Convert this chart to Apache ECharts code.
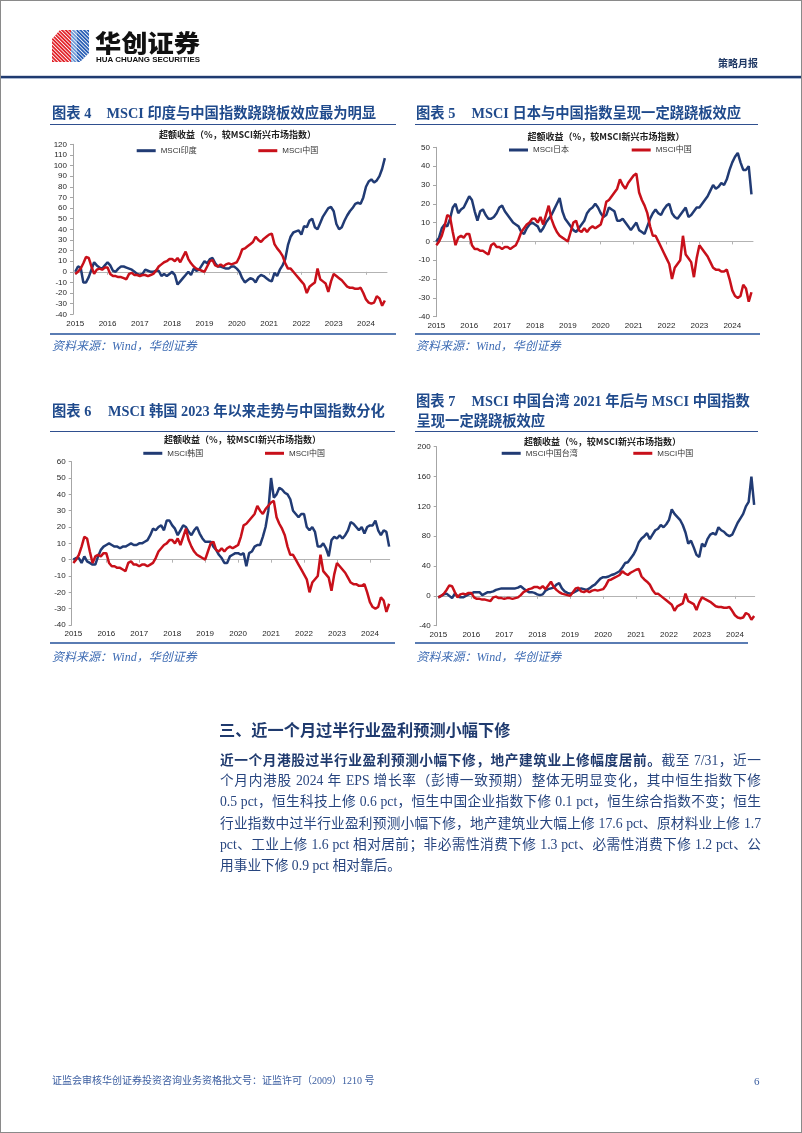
<!DOCTYPE html>
<html><head><meta charset="utf-8">
<script src="https://cdn.jsdelivr.net/npm/echarts@6/dist/echarts.min.js"></script>
<style>
html,body{margin:0;padding:0;background:#fff;}
#page{position:relative;width:802px;height:1133px;overflow:hidden;background:#fff;}
#chart{position:absolute;left:0;top:0;width:802px;height:1133px;}
.t{position:absolute;white-space:nowrap;}
.ct{font-family:"Liberation Serif","Noto Sans CJK SC",serif;font-weight:bold;font-size:14.3px;color:#1f4a8c;line-height:20px;}
.sub{font-family:"Noto Sans CJK SC",sans-serif;font-weight:bold;font-size:9px;color:#222;line-height:12px;width:220px;text-align:center;}
.src{font-family:"Liberation Serif","Noto Sans CJK SC",serif;font-style:italic;font-size:12px;color:#3d6bb3;line-height:16px;}
.hl{position:absolute;height:1.4px;background:#2f4f8f;}
.bl{position:absolute;height:2px;background:#5a7cb3;}
.body{position:absolute;left:220px;width:541px;font-family:"Liberation Serif","Noto Sans CJK SC",serif;font-size:13.7px;line-height:21px;color:#27457f;white-space:nowrap;text-align:justify;text-align-last:justify;}
.body b{font-family:"Noto Sans CJK SC",sans-serif;font-weight:bold;color:#1f3a6e;}
</style></head>
<body><div id="page">
<div id="chart"></div>

<div style="position:absolute;left:0;top:0;width:800px;height:1131px;border:1px solid #8a8a8a;pointer-events:none;"></div>

<svg class="t" style="left:0;top:0" width="802" height="80">
  <defs>
    <pattern id="rs" patternUnits="userSpaceOnUse" width="2.6" height="2.6" patternTransform="rotate(-45)">
      <rect width="2.6" height="2.6" fill="#e2252b"/><rect width="0.8" height="2.6" fill="#fff"/>
    </pattern>
    <pattern id="bs" patternUnits="userSpaceOnUse" width="2.6" height="2.6" patternTransform="rotate(-45)">
      <rect width="2.6" height="2.6" fill="#2a5fb5"/><rect width="0.8" height="2.6" fill="#fff"/>
    </pattern>
    <pattern id="ls" patternUnits="userSpaceOnUse" width="2.6" height="2.6" patternTransform="rotate(-45)">
      <rect width="2.6" height="2.6" fill="#6f9ad6"/><rect width="0.8" height="2.6" fill="#fff"/>
    </pattern>
  </defs>
  <polygon points="52,39 60,30 71,30 71,62 52,62" fill="url(#rs)"/>
  <polygon points="71,30 89,30 89,53 80,62 71,62" fill="url(#bs)"/>
  <polygon points="71,30 77,30 77,62 71,62" fill="url(#ls)"/>
  <text x="95" y="52" font-family="Noto Sans CJK SC" font-weight="900" font-size="24" fill="#111" textLength="105" lengthAdjust="spacingAndGlyphs">华创证券</text>
  <text x="96" y="62.3" font-family="Liberation Sans" font-weight="bold" font-size="7.8" fill="#111" textLength="104" lengthAdjust="spacingAndGlyphs">HUA CHUANG SECURITIES</text>
  <text x="718" y="67" font-family="Noto Sans CJK SC" font-weight="bold" font-size="10.3" fill="#1f3864" textLength="40" lengthAdjust="spacingAndGlyphs">策略月报</text>
  <rect x="1" y="75.8" width="800" height="2.4" fill="#1f3a70"/>
  <rect x="1" y="78.2" width="800" height="0.8" fill="#9fb0cc"/>
</svg>

<!-- chart titles -->
<div class="t ct" style="left:52px;top:103px;">图表 4</div>
<div class="t ct" style="left:106.5px;top:103px;">MSCI 印度与中国指数跷跷板效应最为明显</div>
<div class="hl" style="left:50px;top:123.6px;width:346px;"></div>
<div class="t ct" style="left:416px;top:103px;">图表 5</div>
<div class="t ct" style="left:471.5px;top:103px;">MSCI 日本与中国指数呈现一定跷跷板效应</div>
<div class="hl" style="left:415px;top:123.6px;width:343px;"></div>
<div class="t ct" style="left:52px;top:401px;">图表 6</div>
<div class="t ct" style="left:108px;top:401px;">MSCI 韩国 2023 年以来走势与中国指数分化</div>
<div class="hl" style="left:50px;top:431px;width:345px;"></div>
<div class="t ct" style="left:416px;top:390.5px;">图表 7</div>
<div class="t ct" style="left:471.5px;top:390.5px;">MSCI 中国台湾 2021 年后与 MSCI 中国指数</div>
<div class="t ct" style="left:416.5px;top:410.5px;">呈现一定跷跷板效应</div>
<div class="hl" style="left:415px;top:431px;width:343px;"></div>

<!-- chart subtitles -->
<div class="t sub" style="left:127.5px;top:128.5px;">超额收益（%，较MSCI新兴市场指数）</div>
<div class="t sub" style="left:496px;top:131px;">超额收益（%，较MSCI新兴市场指数）</div>
<div class="t sub" style="left:132.5px;top:434px;">超额收益（%，较MSCI新兴市场指数）</div>
<div class="t sub" style="left:492.5px;top:435.7px;">超额收益（%，较MSCI新兴市场指数）</div>

<!-- bottom rules and sources -->
<div class="bl" style="left:50px;top:332.5px;width:346px;"></div>
<div class="bl" style="left:415px;top:332.5px;width:345px;"></div>
<div class="bl" style="left:50px;top:642.3px;width:345px;"></div>
<div class="bl" style="left:415px;top:642.3px;width:333px;"></div>
<div class="t src" style="left:52px;top:338px;">资料来源：Wind，华创证券</div>
<div class="t src" style="left:416px;top:338px;">资料来源：Wind，华创证券</div>
<div class="t src" style="left:52px;top:649px;">资料来源：Wind，华创证券</div>
<div class="t src" style="left:416.5px;top:649px;">资料来源：Wind，华创证券</div>

<!-- section text -->
<div class="t" style="left:219px;top:718px;font-family:'Noto Sans CJK SC',sans-serif;font-weight:bold;font-size:16.2px;line-height:22px;color:#1f3a6e;">三、近一个月过半行业盈利预测小幅下修</div>
<div class="body" style="top:749px;"><b>近一个月港股过半行业盈利预测小幅下修，地产建筑业上修幅度居前。</b>截至 7/31，近一</div>
<div class="body" style="top:770.2px;">个月内港股 2024 年 EPS 增长率（彭博一致预期）整体无明显变化，其中恒生指数下修</div>
<div class="body" style="top:791.4px;">0.5 pct，恒生科技上修 0.6 pct，恒生中国企业指数下修 0.1 pct，恒生综合指数不变；恒生</div>
<div class="body" style="top:812.6px;">行业指数中过半行业盈利预测小幅下修，地产建筑业大幅上修 17.6 pct、原材料业上修 1.7</div>
<div class="body" style="top:833.8px;">pct、工业上修 1.6 pct 相对居前；非必需性消费下修 1.3 pct、必需性消费下修 1.2 pct、公</div>
<div class="body" style="top:855px;text-align-last:left;">用事业下修 0.9 pct 相对靠后。</div>

<!-- footer -->
<div class="t" style="left:52px;top:1074px;font-family:'Liberation Serif','Noto Sans CJK SC',serif;font-size:10px;line-height:14px;color:#3a5da0;">证监会审核华创证券投资咨询业务资格批文号：证监许可（2009）1210 号</div>
<div class="t" style="left:754px;top:1074px;font-family:'Liberation Serif',serif;font-size:11px;line-height:14px;color:#3a5da0;">6</div>
</div>

<script>
// ---- data (monthly readings, excess return %, vs MSCI EM) ----
const years = [2015, 2016, 2017, 2018, 2019, 2020, 2021, 2022, 2023, 2024];
const months = [];
for (let m = 0; m < 116; m++) months.push(+(2015 + m / 12).toFixed(4));

const china = [
  -2, 0, 3, 8, 14, 13, 5, -2, 2, 3, 2, 4,
  4, -2, -4, -4, -5, -5, -6, -7, -2, -1, -3, -3,
  -4, -3, -3, -4, -3, -2, 1, 5, 7, 9, 10, 12,
  12, 10, 13, 9, 14, 19, 12, 8, 5, 3, 2, 1,
  0, 5, 10, 11, 6, 5, 7, 5, 7, 8, 7, 8,
  9, 14, 21, 22, 24, 26, 28, 33, 30, 28, 31, 33,
  35, 36, 26, 22, 19, 15, 8, 3, 3, 0, -3, -6,
  -9, -12, -20, -14, -12, -10, 3, -7, -9, -11, -19, -9,
  -2, -4, -6, -8, -11, -14, -15, -15, -16, -16, -15, -20,
  -26, -29, -30, -29, -23, -25, -32, -27
];
const india = [
  0, 5, 4, -10, -10, -5, 2, 9, 6, 4, 3, 6,
  9, 6, 1, 0, 3, 5, 5, 4, 3, 2, 0, -2,
  -3, -2, 2, 1, 0, 0, 1, 1, -4, -2, -4, -2,
  0, -3, -12, -9, -6, -3, 0, -3, 3, 1, 2, 6,
  10, 8, 12, 13, 8, 5, 5, 4, 3, 3, 5, 5,
  3, 0, -6, -10, -8, -6, -7, -10, -5, -3, -4, -6,
  -8, -9, -1, -4, 2, 6, 12, 25, 33, 37, 38, 39,
  35, 43, 42, 48, 50, 42, 40, 46, 52, 56, 60, 61,
  57, 45, 40, 42, 48, 53, 57, 60, 64, 65, 64, 70,
  80, 85, 87, 84, 86, 90, 97, 107
];
const japan = [
  0, 2, 7, 9, 8, 12, 18, 20, 15, 17, 18, 21,
  24, 22, 16, 11, 16, 17, 14, 12, 12, 13, 15, 18,
  19, 16, 14, 12, 10, 9, 8, 5, 4, 7, 9, 10,
  9, 8, 5, 7, 10, 12, 14, 17, 20, 23, 16, 12,
  10, 8, 6, 5, 7, 9, 11, 15, 17, 18, 20, 18,
  15, 13, 14, 18, 17, 16, 11, 11, 12, 10, 8, 6,
  8, 10, 6, 5, 4, 8, 12, 15, 17, 15, 14, 17,
  19, 20, 15, 13, 12, 14, 16, 18, 13, 14, 16, 18,
  18, 20, 22, 24, 27, 30, 28, 29, 31, 30, 33, 38,
  42, 45, 47, 42, 38, 38, 40, 25
];
const korea = [
  0, 1, 1, -2, 2, -1, -2, -3, -3, 2, 6, 8,
  9, 10, 9, 8, 8, 7, 8, 8, 9, 10, 9, 9,
  10, 10, 11, 12, 15, 19, 18, 20, 21, 18, 24, 24,
  21, 19, 15, 18, 21, 20, 17, 15, 18, 20, 16, 13,
  11, 11, 11, 8, 6, 3, 1, -2, -2, 2, 3, 4,
  4, 3, 4, -4, 4, 5, 8, 9, 9, 14, 20, 30,
  50, 38, 40, 44, 43, 41, 40, 37, 30, 28, 26, 28,
  28, 20, 18, 20, 17, 8, 8, 10, 7, 2, 12, 14,
  13, 15, 13, 15, 18, 23, 22, 20, 18, 20, 16, 20,
  21, 21, 24, 18, 15, 18, 17, 8
];
const taiwan = [
  -2, 0, 2, 3, 0, -3, 3, 0, -2, -2, 0, 2,
  3, 5, 5, 5, 1, 3, 5, 5, 6, 8, 9, 10,
  10, 10, 10, 10, 10, 11, 13, 10, 7, 5, 5, 4,
  2, 1, 2, 7, 9, 10, 11, 15, 17, 10, 6, 4,
  3, 4, 6, 8, 10, 9, 8, 10, 13, 15, 19, 23,
  25, 25, 26, 28, 29, 31, 33, 38, 44, 45, 50, 55,
  62, 72, 77, 80, 84, 76, 82, 88, 90, 95, 92, 96,
  102, 116, 110, 106, 102, 95, 85, 70, 74, 65, 55, 52,
  70, 66, 76, 82, 84, 82, 92, 88, 86, 82, 80, 82,
  90, 98, 104, 110, 120, 126, 160, 122
];
const chinaName = 'MSCI中国';
const peerNames = ['MSCI印度', 'MSCI日本', 'MSCI韩国', 'MSCI中国台湾'];
const peerData = [india, japan, korea, taiwan];

// ---- layout ----
const BLUE = '#213b74', RED = '#c8101a';
const panels = [
  {left: 73, top: 144.3, width: 314, height: 170, xmin: 2014.93, xmax: 2024.65, ymin: -40, ymax: 120, yint: 10, lb: [136.7, 151.7], lr: [258.3, 151.7]},
  {left: 436, top: 147.3, width: 317, height: 169.4, xmin: 2014.99, xmax: 2024.63, ymin: -40, ymax: 50, yint: 10, lb: [509, 151], lr: [631.7, 151]},
  {left: 71.7, top: 461.7, width: 318, height: 163.3, xmin: 2014.95, xmax: 2024.6, ymin: -40, ymax: 60, yint: 10, lb: [143.3, 454.3], lr: [265, 454.3]},
  {left: 436.7, top: 446.7, width: 318, height: 179, xmin: 2014.95, xmax: 2024.6, ymin: -40, ymax: 200, yint: 40, lb: [501.7, 454.3], lr: [633.3, 454.3]}
];
const pair = arr => arr.map((v, i) => [months[i], v]);
const FONT = '"Liberation Sans", Arial, sans-serif';

const grid = [], xAxis = [], yAxis = [], series = [], legend = [];
panels.forEach((p, k) => {
  grid.push({left: p.left, top: p.top, width: p.width, height: p.height, containLabel: false});
  xAxis.push({
    type: 'value', gridIndex: k, min: p.xmin, max: p.xmax, position: 'bottom',
    axisLine: {show: false, onZero: false}, axisTick: {show: false}, splitLine: {show: false},
    axisLabel: {customValues: years, formatter: v => String(Math.round(v)), fontSize: 8, color: '#262626', fontFamily: FONT, margin: 5}
  });
  xAxis.push({
    type: 'value', gridIndex: k, min: p.xmin, max: p.xmax, position: 'top',
    axisLine: {show: true, onZero: true, lineStyle: {color: '#b3b3b3', width: 1}},
    axisTick: {show: true, customValues: years, inside: true, length: 3, lineStyle: {color: '#b3b3b3'}},
    axisLabel: {show: false}, splitLine: {show: false}
  });
  yAxis.push({
    type: 'value', gridIndex: k, min: p.ymin, max: p.ymax, interval: p.yint,
    axisLine: {show: true, onZero: false, lineStyle: {color: '#a6a6a6', width: 1}},
    axisTick: {show: true, length: 3, lineStyle: {color: '#a6a6a6'}},
    axisLabel: {fontSize: 8, color: '#262626', fontFamily: FONT, margin: 6},
    splitLine: {show: false}
  });
  series.push({
    type: 'line', name: peerNames[k], xAxisIndex: 2 * k, yAxisIndex: k, data: pair(peerData[k]),
    showSymbol: false, symbol: 'none', lineStyle: {width: 2.5, color: BLUE}, itemStyle: {color: BLUE}, z: 2
  });
  series.push({
    type: 'line', name: chinaName, xAxisIndex: 2 * k, yAxisIndex: k, data: pair(china),
    showSymbol: false, symbol: 'none', lineStyle: {width: 2.5, color: RED}, itemStyle: {color: RED}, z: 3
  });
  const legStyle = {fontSize: 8, color: '#333', fontFamily: '"Liberation Sans", "Noto Sans CJK SC", sans-serif'};
  legend.push({data: [{name: peerNames[k], icon: 'rect'}], left: p.lb[0], top: p.lb[1] - 5, padding: 0, itemWidth: 19, itemHeight: 3, selectedMode: false, textStyle: legStyle, itemStyle: {color: BLUE, borderWidth: 0}});
  legend.push({data: [{name: chinaName, icon: 'rect'}], left: p.lr[0], top: p.lr[1] - 5, padding: 0, itemWidth: 19, itemHeight: 3, selectedMode: false, textStyle: legStyle, itemStyle: {color: RED, borderWidth: 0}});
});

const chart = echarts.init(document.getElementById('chart'), null, {renderer: 'canvas'});
chart.setOption({
  backgroundColor: 'transparent',
  animation: false,
  grid, xAxis, yAxis, series, legend
});
</script>
</body></html>
